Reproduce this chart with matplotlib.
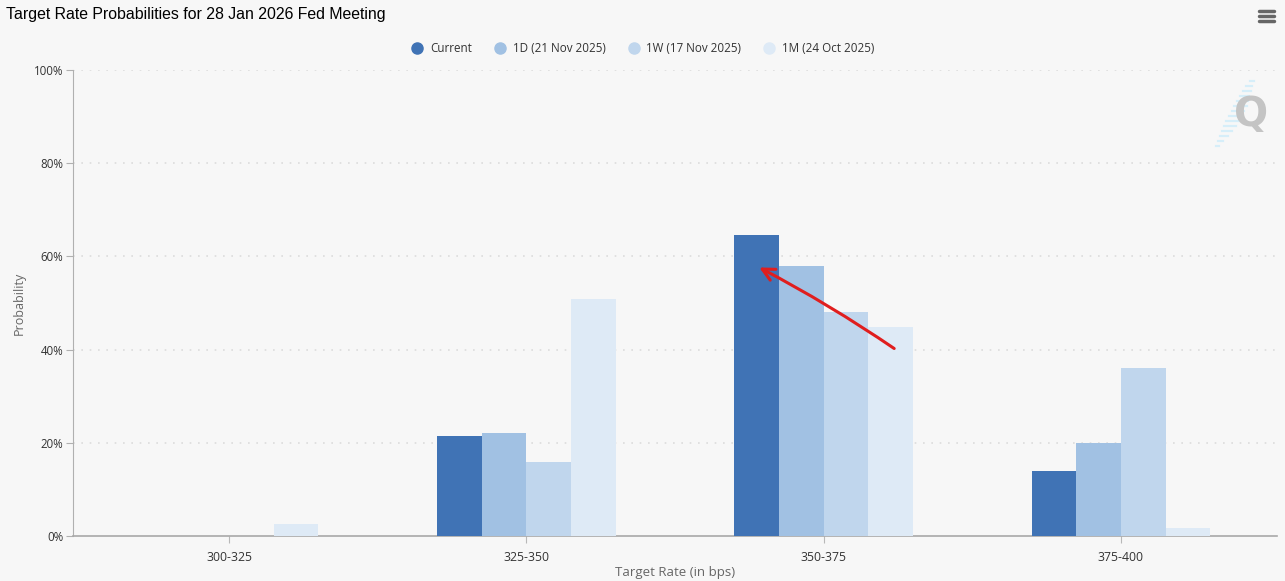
import numpy as np
import matplotlib.pyplot as plt
from matplotlib.lines import Line2D
from matplotlib.ticker import FuncFormatter

# data
rates = ['300-325', '325-350', '350-375', '375-400']
current = [0.0, 21.5, 64.6, 13.9]
one_day = [0.0, 22.0, 57.9, 20.0]
one_week = [0.0, 15.9, 48.0, 36.1]
one_month = [2.6, 50.8, 44.8, 1.7]

series_names = ['Current', '1D (21 Nov 2025)', '1W (17 Nov 2025)', '1M (24 Oct 2025)']
colors = ['#4073b5', '#a1c1e3', '#c0d6ed', '#deeaf6']

bg = '#f7f7f7'
plt.rcParams['font.family'] = ['Open Sans', 'DejaVu Sans']

fig = plt.figure(figsize=(12.85, 5.81), dpi=100, facecolor=bg)
ax = fig.add_axes([73 / 1285, 45 / 581, 1204 / 1285, 466 / 581])
ax.set_facecolor(bg)

x = np.arange(len(rates))
bar_w = 0.15
all_series = [current, one_day, one_week, one_month]
for i, (vals, col) in enumerate(zip(all_series, colors)):
    offs = (i - 1.5) * bar_w
    ax.bar(x + offs, vals, width=bar_w, color=col, linewidth=0, zorder=3)

ax.set_xlim(-0.525, 3.525)
ax.set_ylim(0, 100)
ax.set_yticks([0, 20, 40, 60, 80, 100])
ax.yaxis.set_major_formatter(FuncFormatter(lambda v, p: f'{v:.0f}%'))
ax.set_xticks(x)
ax.set_xticklabels(rates)

for v in [20, 40, 60, 80, 100]:
    ax.axhline(v, color='#dcdcdc', lw=1.2, ls=(0, (1, 4)), zorder=1)

for s in ['top', 'right']:
    ax.spines[s].set_visible(False)
ax.spines['left'].set_color('#b0b0b0')
ax.spines['bottom'].set_color('#a8a8a8')
ax.spines['bottom'].set_linewidth(1.2)
ax.tick_params(axis='y', colors='#b0b0b0', labelcolor='#333333', labelsize=8.3, length=5, pad=2)
ax.tick_params(axis='x', colors='#b8b8b8', labelcolor='#333333', labelsize=8.8, length=5, pad=6)

ax.set_ylabel('Probability', color='#666666', fontsize=9, labelpad=6)
ax.set_xlabel('Target Rate (in bps)', color='#666666', fontsize=9.5, labelpad=1)

fig.text(6 / 1285, 1 - 15 / 581, 'Target Rate Probabilities for 28 Jan 2026 Fed Meeting',
         family='Liberation Sans', fontsize=11.45, color='#000000', va='center', ha='left')

handles = [Line2D([], [], marker='o', ls='', markersize=8, markerfacecolor=c,
                  markeredgecolor=c) for c in colors]
fig.legend(handles, series_names, loc='center', bbox_to_anchor=(643 / 1285, 1 - 49 / 581),
           ncol=4, frameon=False, fontsize=8.4, labelcolor='#333333',
           handletextpad=0.6, columnspacing=1.9, handlelength=1.0)

# hamburger menu icon
for yy in [11, 16, 21]:
    fig.add_artist(Line2D([1259 / 1285, 1274 / 1285], [1 - yy / 581, 1 - yy / 581],
                          color='#666666', lw=2.5, solid_capstyle='round'))

# Q watermark with faint streaks
dash_len = [3, 5, 8, 10, 12, 14, 13, 12, 13, 11, 9, 8, 6, 4]
for k, ln in enumerate(dash_len):
    yy = 146 - k * 5.0
    xx0 = 1217 + k * 2.6 - ln * 0.3
    fig.add_artist(Line2D([xx0 / 1285, (xx0 + ln) / 1285], [1 - yy / 581, 1 - yy / 581],
                          color='#d6eef9', lw=1.6))
fig.text(1251 / 1285, 1 - 115 / 581, 'Q', fontsize=29, fontweight='bold', color='#c4c4c4',
         ha='center', va='center', family='DejaVu Sans')

# red hand-drawn arrow annotation
ax.annotate('', xy=(1.775, 57.9), xytext=(2.245, 39.9),
            arrowprops=dict(arrowstyle='->', color='#e01e1e', lw=2.2,
                            connectionstyle='arc3,rad=0.03', mutation_scale=22),
            zorder=5)

fig.savefig('out.png', dpi=100, facecolor=bg)
